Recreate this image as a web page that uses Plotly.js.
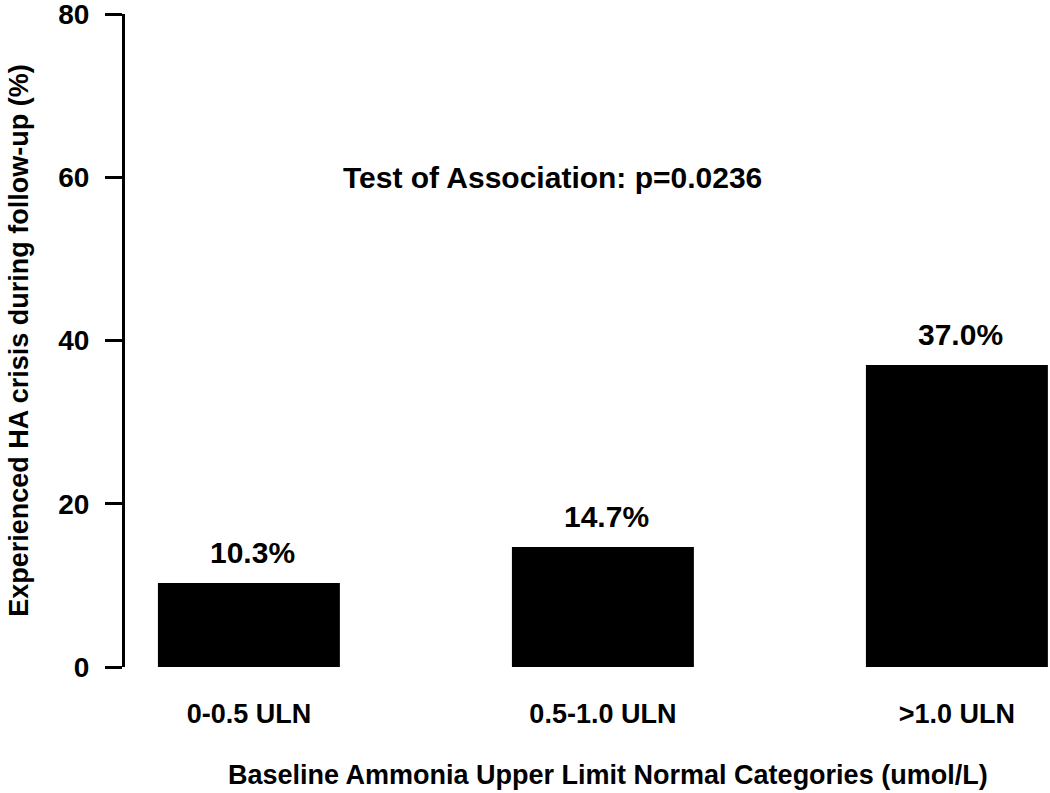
<!DOCTYPE html>
<html>
<head>
<meta charset="utf-8">
<script src="https://cdn.plot.ly/plotly-3.0.1.min.js"></script>
<style>
  body { margin: 0; background: #fff; }
  #grafico { width: 1050px; height: 793px; }
</style>
</head>
<body>
<div id="grafico"></div>
<script>
var categorias = ['0-0.5 ULN', '0.5-1.0 ULN', '>1.0 ULN'];
var percentuais = [10.3, 14.7, 37.0];
var rotulos = ['10.3%', '14.7%', '37.0%'];
var ticksY = [0, 20, 40, 60, 80];
var textoTeste = 'Test of Association: p=0.0236';

var fonte = {family: 'Liberation Sans, Arial, sans-serif', color: '#000', weight: 'bold'};

var posicoes = categorias.map(function (c, i) { return i; });

var dados = [{
    type: 'bar',
    x: posicoes,
    y: percentuais,
    marker: {color: '#000', line: {width: 0}},
    hoverinfo: 'none'
}];

// rotulos em cima das barras
var anotacoes = percentuais.map(function (v, i) {
    return {
        x: posicoes[i], y: v, xref: 'x', yref: 'y',
        text: rotulos[i], showarrow: false,
        yanchor: 'bottom', yshift: 12, xshift: 4,
        font: Object.assign({}, fonte, {size: 30})
    };
});
anotacoes.push({
    x: 0.859, y: 60, xref: 'x', yref: 'y',
    text: textoTeste, showarrow: false,
    font: Object.assign({}, fonte, {size: 30})
});
// titulo do eixo x (um pouco deslocado para a direita, como no original)
anotacoes.push({
    x: 0.522, y: 0, xref: 'paper', yref: 'paper',
    yanchor: 'middle', yshift: -108,
    text: 'Baseline Ammonia Upper Limit Normal Categories (umol/L)', showarrow: false,
    font: Object.assign({}, fonte, {size: 27})
});

var layout = {
    width: 1050,
    height: 793,
    margin: {l: 125, r: 0, t: 14, b: 126},
    paper_bgcolor: '#fff',
    plot_bgcolor: '#fff',
    showlegend: false,
    bargap: 0.486,
    xaxis: {
        range: [-0.35, 2.263],
        tickmode: 'array',
        tickvals: posicoes,
        ticktext: categorias,
        ticks: '',
        ticklabelstandoff: 28,
        showline: false,
        showgrid: false,
        zeroline: false,
        automargin: false,
        tickfont: Object.assign({}, fonte, {size: 27})
    },
    yaxis: {
        range: [0, 80],
        tickmode: 'array',
        tickvals: ticksY,
        ticks: 'outside',
        ticklen: 17,
        tickwidth: 3,
        tickcolor: '#000',
        ticklabelstandoff: 10,
        ticklabeloverflow: 'allow',
        showline: true,
        linewidth: 3,
        linecolor: '#000',
        showgrid: false,
        zeroline: false,
        automargin: false,
        tickfont: Object.assign({}, fonte, {size: 28}),
        title: {text: 'Experienced HA crisis during follow-up (%)', font: Object.assign({}, fonte, {size: 27}), standoff: 22}
    },
    annotations: anotacoes
};

Plotly.newPlot('grafico', dados, layout, {displayModeBar: false});
</script>
</body>
</html>
